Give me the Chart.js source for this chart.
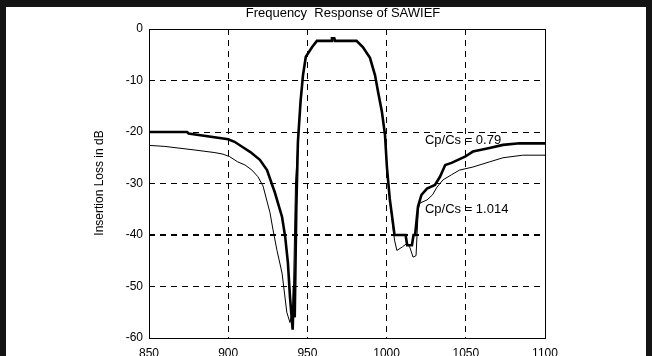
<!DOCTYPE html>
<html>
<head>
<meta charset="utf-8">
<script src="https://cdn.jsdelivr.net/npm/chart.js@4.4.1/dist/chart.umd.min.js"></script>
<style>
html, body { margin: 0; padding: 0; background: #fff; overflow: hidden; width: 652px; height: 356px; }
#wrap { position: relative; width: 652px; height: 366px; }
canvas { position: absolute; left: 0; top: 0; }
.bar { position: absolute; background: #141414; }
</style>
</head>
<body>
<div id="wrap">
  <canvas id="c" width="652" height="366"></canvas>
  <div class="bar" style="left:0;top:0;width:652px;height:7px"></div>
  <div class="bar" style="left:0;top:0;width:6px;height:366px"></div>
  <div class="bar" style="left:646px;top:0;width:6px;height:366px"></div>
</div>
<script>
// Cp/Cs = 0.79 (thick trace)
let FREQ_079 = [850, 874, 875, 900, 904, 910, 914, 920, 924.5, 929.5, 934, 936, 937.7, 939, 940.7, 941.5, 942, 943, 944,
    945.7, 947.2, 949, 953, 956, 965, 965.5, 967, 967.5, 981, 985, 989.5, 992.7, 994.6, 997, 999, 1000.2, 1002, 1005,
    1012, 1013, 1016, 1017, 1018, 1019.8, 1022, 1025.5, 1030.5, 1033.7, 1037, 1041, 1049.5, 1054.5, 1065, 1073.5, 1084, 1100]
let LOSS_079 = [-20, -20, -20.3, -21.4, -21.9, -23.1, -23.9, -25.4, -27.4, -31.8, -36.5, -40.4, -45.4, -52, -58.4, -50, -56, -35, -22,
    -14, -9, -5.4, -3.5, -2.3, -2.3, -1.8, -1.8, -2.3, -2.3, -3.5, -5.6, -9, -12.2, -16, -20.6, -26.8, -33, -40,
    -40, -42, -42, -40, -40, -34.5, -32.2, -31, -30.3, -28.7, -26.4, -26, -24.8, -23.8, -23.1, -22.5, -22.2, -22.2]

// Cp/Cs = 1.014 (thin trace)
let FREQ_1014 = [850, 860, 879, 891.6, 896.7, 901, 906, 910.6, 915, 918.8, 922, 926.4, 928.3, 930.8, 934, 937, 939, 941, 942.5, 944,
    945.7, 947.2, 949, 953, 956, 981, 985, 989.5, 992.7, 994.6, 997, 999, 1000.2, 1002, 1005, 1006.5, 1010, 1013, 1014.8,
    1016.7, 1018.6, 1020, 1021, 1025.5, 1029, 1031.8, 1035.6, 1041, 1046, 1054.5, 1065, 1073.5, 1086, 1100]
let LOSS_1014 = [-22.6, -22.8, -23.5, -24, -24.3, -24.8, -25.8, -26.4, -27.4, -28.7, -30.5, -35.7, -39, -43, -47.4, -55, -57, -54, -30, -22,
    -14, -9, -5.4, -3.5, -2.3, -2.3, -3.5, -5.6, -9, -12.2, -16, -20.6, -26.8, -33, -41, -43, -42.3, -41.6, -42.5,
    -44.3, -44, -35, -33.8, -33.2, -32.2, -30.7, -29.3, -28.3, -27.4, -26.8, -25.8, -25, -24.5, -24.5]

let X_TICKS = [850, 900, 950, 1000, 1050, 1100]
let Y_TICKS = [0, -10, -20, -30, -40, -50, -60]

let NOTE_TEXT = ['Cp/Cs = 0.79', 'Cp/Cs = 1.014']
let NOTE_X = [1024.2, 1024.2]
let NOTE_Y = [-21.7, -35.1]

let FONT = "'Liberation Sans', Arial, sans-serif"

function to_points(xs, ys) {
    return xs.map((x, i) => ({ x: x, y: ys[i] }))
}

let extras = {
    id: 'extras',
    afterDatasetsDraw(chart) {
        let ctx = chart.ctx
        let a = chart.chartArea
        ctx.save()
        ctx.setLineDash([])
        ctx.strokeStyle = '#000'
        ctx.lineWidth = 1
        ctx.strokeRect(Math.round(a.left) + 0.5, Math.round(a.top) + 0.5, Math.round(a.right - a.left), Math.round(a.bottom - a.top))

        ctx.fillStyle = '#000'
        ctx.font = '13px ' + FONT
        ctx.textAlign = 'left'
        ctx.textBaseline = 'middle'
        for (let i = 0; i < NOTE_TEXT.length; i++) {
            ctx.fillText(NOTE_TEXT[i], chart.scales.x.getPixelForValue(NOTE_X[i]), chart.scales.y.getPixelForValue(NOTE_Y[i]))
        }

        ctx.font = '13px ' + FONT
        ctx.textAlign = 'center'
        ctx.fillText('Frequency  Response of SAWIEF', 343, 13)

        ctx.translate(100, 183)
        ctx.rotate(-Math.PI / 2)
        ctx.font = '12px ' + FONT
        ctx.fillText('Insertion Loss in dB', 0, 0)
        ctx.restore()
    }
}

new Chart(document.getElementById('c'), {
    type: 'line',
    data: {
        datasets: [{
            data: to_points(FREQ_079, LOSS_079),
            borderColor: '#000',
            borderWidth: 2.6,
            pointRadius: 0,
            fill: false,
            tension: 0
        }, {
            data: to_points(FREQ_1014, LOSS_1014),
            borderColor: '#000',
            borderWidth: 1,
            pointRadius: 0,
            fill: false,
            tension: 0
        }]
    },
    options: {
        responsive: false,
        devicePixelRatio: 1,
        animation: false,
        layout: { padding: { top: 29, right: 107, left: 0, bottom: 0 } },
        plugins: { legend: { display: false }, tooltip: { enabled: false } },
        scales: {
            x: {
                type: 'linear',
                min: 850,
                max: 1100,
                afterFit: s => { s.height = 28 },
                afterBuildTicks: s => { s.ticks = X_TICKS.map(v => ({ value: v })) },
                ticks: { color: '#000', font: { size: 12, family: FONT }, padding: 8, maxRotation: 0, callback: v => String(v) },
                grid: { color: '#000', lineWidth: 1, drawTicks: false },
                border: { display: false, dash: [6, 5] }
            },
            y: {
                min: -60,
                max: 0,
                afterFit: s => { s.width = 149 },
                afterBuildTicks: s => { s.ticks = Y_TICKS.map(v => ({ value: v })) },
                ticks: { color: '#000', font: { size: 12, family: FONT }, padding: 6, callback: v => String(v) },
                grid: {
                    color: '#000',
                    lineWidth: c => (c.tick && c.tick.value === -40 ? 2 : 1),
                    drawTicks: false
                },
                border: { display: false, dash: [6, 5] }
            }
        }
    },
    plugins: [extras]
})
</script>
</body>
</html>
